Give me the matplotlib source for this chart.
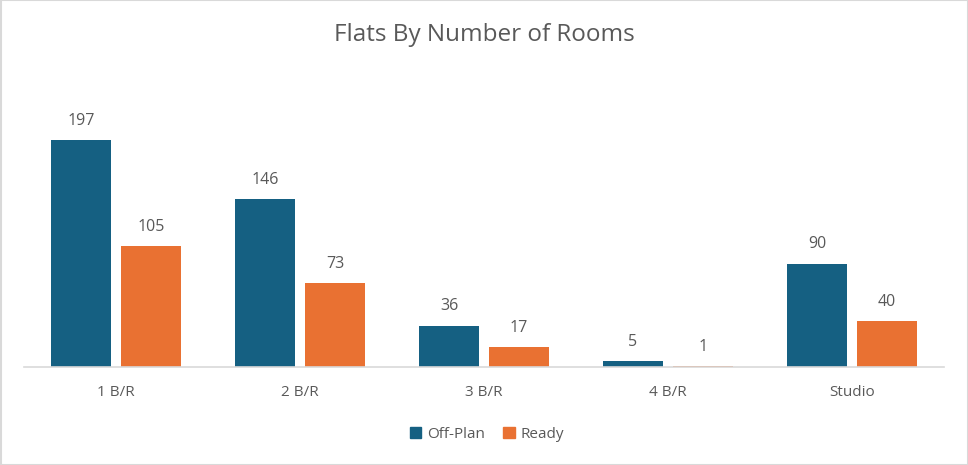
import matplotlib
matplotlib.use("Agg")
import matplotlib.pyplot as plt
from matplotlib.patches import Patch
import numpy as np

categories = ["1 B/R", "2 B/R", "3 B/R", "4 B/R", "Studio"]
off_plan = [197, 146, 36, 5, 90]
ready = [105, 73, 17, 1, 40]

c_off = "#156082"
c_ready = "#E97132"
txt = "#595959"

plt.rcParams['font.family'] = ['Open Sans', 'DejaVu Sans']

W, H = 968, 465
fig = plt.figure(figsize=(W/100, H/100), dpi=100)
fig.patches.append(plt.Rectangle((0.5/W, 0.5/H), 1-1/W, 1-1/H, transform=fig.transFigure,
                                 fill=False, edgecolor="#d9d9d9", linewidth=1.5))

left, right, base, top = 24, 944, 367, 60
ax = fig.add_axes([left/W, (H-base)/H, (right-left)/W, (base-top)/H])
px_per_cat = (right-left)/len(categories)
bw = 60/px_per_cat
off = 35/px_per_cat
x = np.arange(len(categories))
ax.set_xlim(-0.5, len(categories)-0.5)
ax.set_ylim(0, (base-top)/1.15)

b1 = ax.bar(x-off, off_plan, bw, color=c_off, label="Off-Plan")
b2 = ax.bar(x+off, ready, bw, color=c_ready, label="Ready")
for bars, vals in ((b1, off_plan), (b2, ready)):
    for r, v in zip(bars, vals):
        ax.annotate(str(v), (r.get_x()+r.get_width()/2, v), xytext=(0, 8),
                    textcoords="offset points", ha="center", va="bottom",
                    fontsize=11.5, color=txt)

for s in ["top", "right", "left"]:
    ax.spines[s].set_visible(False)
ax.spines["bottom"].set_color("#d9d9d9")
ax.spines["bottom"].set_linewidth(1.2)
ax.set_yticks([])
ax.set_xticks(x)
ax.set_xticklabels(categories, fontsize=11, color=txt)
ax.tick_params(axis="x", length=0, pad=13)

fig.text(0.5, 1-35/H, "Flats By Number of Rooms", ha="center", va="center",
         fontsize=17.5, color=txt)

handles = [Patch(color=c_off, label="Off-Plan"), Patch(color=c_ready, label="Ready")]
fig.legend(handles=handles, loc="center", bbox_to_anchor=(487/W, 1-434/H), ncol=2,
           frameon=False, fontsize=11, labelcolor=txt, handlelength=0.75, handleheight=0.75,
           handletextpad=0.4, columnspacing=1.2)

fig.savefig("out.png", dpi=100)
